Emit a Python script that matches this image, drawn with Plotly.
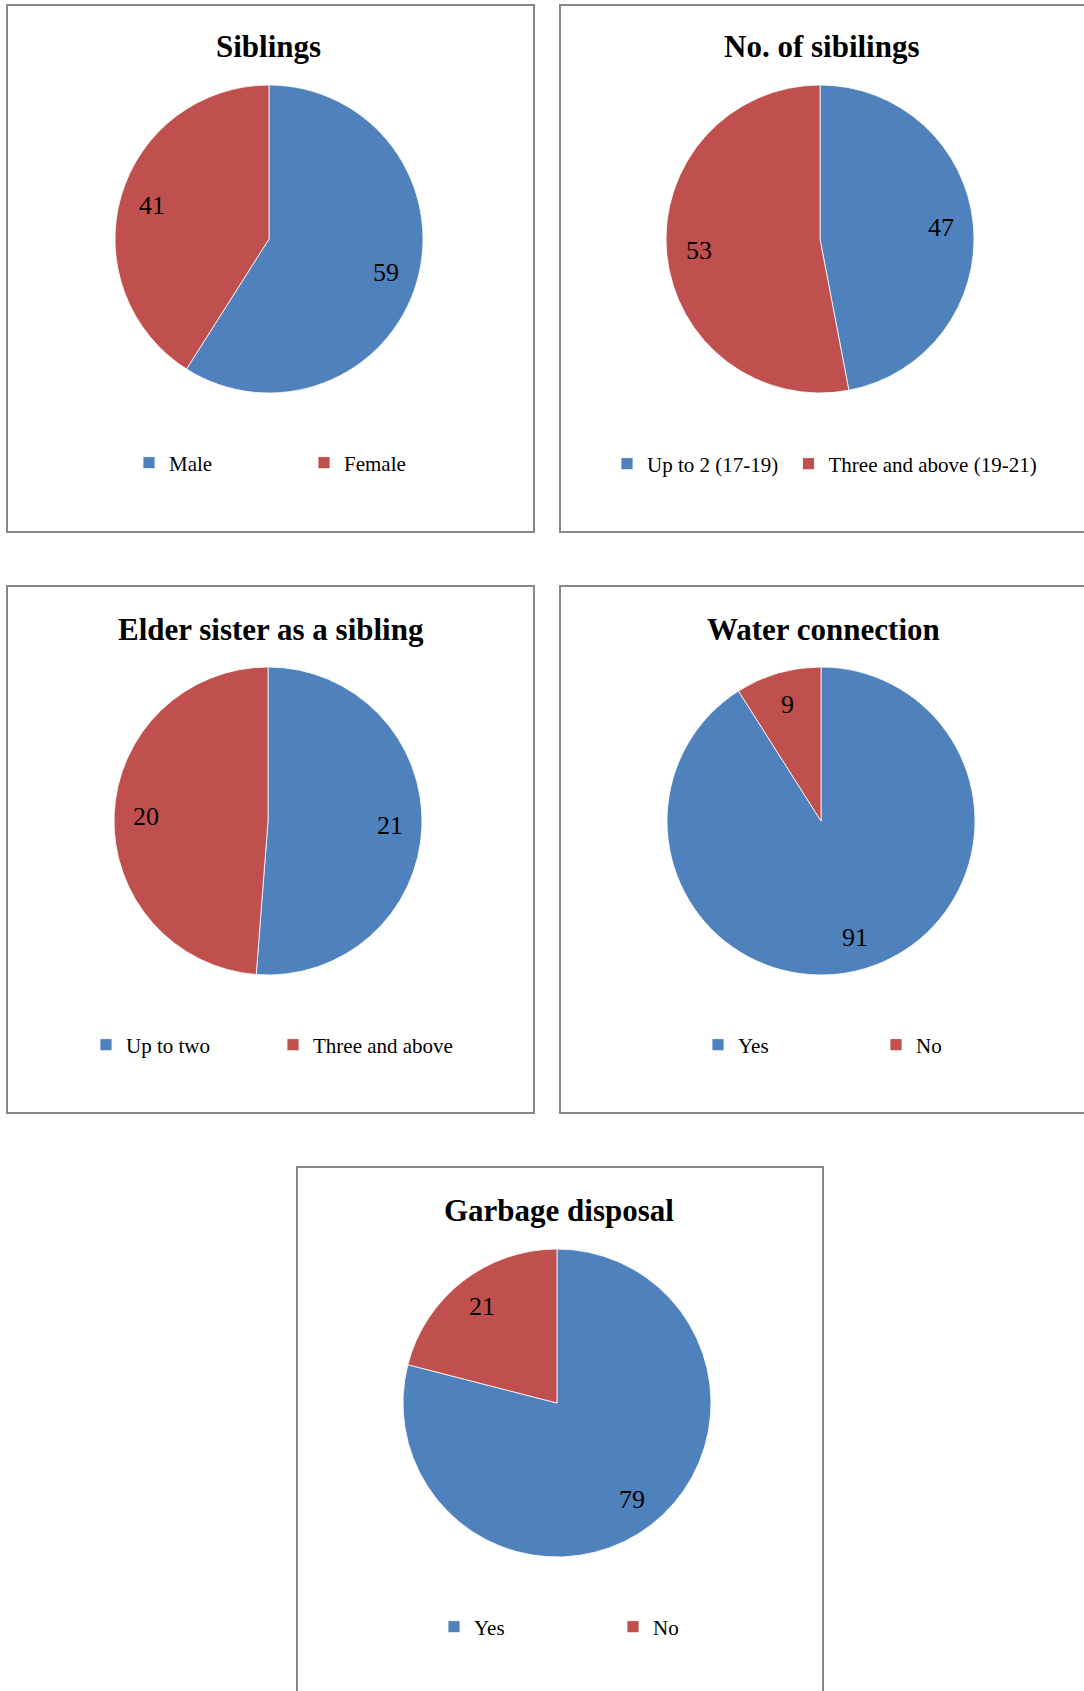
import math
import plotly.graph_objects as go

W, H = 1084, 1691

# ---- data ----
titles = ["Siblings", "No. of sibilings", "Elder sister as a sibling", "Water connection", "Garbage disposal"]
labels_1 = ["Male", "Female"]
values_1 = [59, 41]
labels_2 = ["Up to 2 (17-19)", "Three and above (19-21)"]
values_2 = [47, 53]
labels_3 = ["Up to two", "Three and above"]
values_3 = [21, 20]
labels_4 = ["Yes", "No"]
values_4 = [91, 9]
labels_5 = ["Yes", "No"]
values_5 = [79, 21]

colors = ["#4F81BD", "#C0504D"]

# ---- layout (pixel geometry) ----
boxes = [(7, 5, 534, 532), (560, 5, 1095, 532), (7, 586, 534, 1113),
         (560, 586, 1095, 1113), (297, 1167, 823, 1700)]
centers = [(269, 239), (820, 239), (268, 821), (821, 821), (557, 1403)]
title_pos = [(268, 46), (822, 46), (271, 629), (823, 629), (559, 1210)]
legend_pos = [(129, 463), (607, 464), (86, 1045), (698, 1045), (434, 1627)]
entry_w = [130, None, 142, 133, 134]
R = 154
LABEL_FRAC = 0.79

datasets = [(labels_1, values_1), (labels_2, values_2), (labels_3, values_3),
            (labels_4, values_4), (labels_5, values_5)]

fig = go.Figure()
serif = "Liberation Serif, Times New Roman, serif"

layout_legends = {}
annotations = []
for i, ((labs, vals), (cx, cy)) in enumerate(zip(datasets, centers)):
    lname = "legend" if i == 0 else f"legend{i+1}"
    # pies sharing identical labels would share legend entries; pad with
    # invisible non-breaking spaces so every chart keeps its own legend
    shown = [l + "\u00a0" * i for l in labs]
    fig.add_trace(go.Pie(
        labels=shown, values=vals, sort=False, direction="clockwise", rotation=0,
        marker=dict(colors=colors, line=dict(color="white", width=0.8)),
        textinfo="none",
        domain=dict(x=[(cx - R) / W, (cx + R) / W], y=[1 - (cy + R) / H, 1 - (cy - R) / H]),
        legend=lname, showlegend=True, hoverinfo="label+value",
    ))
    # data labels along each slice bisector
    total = sum(vals)
    cum = 0
    for v in vals:
        theta = math.radians((cum + v / 2) / total * 360)
        cum += v
        d = LABEL_FRAC * R
        px = cx + d * math.sin(theta)
        py = cy - d * math.cos(theta)
        annotations.append(dict(text=str(v), x=px / W, y=1 - py / H, xref="paper", yref="paper",
                                xanchor="center", yanchor="middle", showarrow=False,
                                font=dict(family=serif, size=26, color="black")))
    lx, ly = legend_pos[i]
    leg = dict(
        x=lx / W, y=1 - ly / H, xanchor="left", yanchor="middle",
        orientation="h", bgcolor="rgba(0,0,0,0)", borderwidth=0,
        font=dict(family=serif, size=21, color="black"),
        itemclick=False, traceorder="normal",
    )
    if entry_w[i]:
        leg.update(entrywidth=entry_w[i], entrywidthmode="pixels")
    layout_legends[lname] = leg

shapes = []
for (x0, y0, x1, y1) in boxes:
    shapes.append(dict(type="rect", xref="paper", yref="paper",
                       x0=x0 / W, x1=x1 / W, y0=1 - y1 / H, y1=1 - y0 / H,
                       line=dict(color="#878787", width=2), fillcolor="rgba(0,0,0,0)",
                       layer="below"))

for t, (tx, ty) in zip(titles, title_pos):
    annotations.append(dict(text=f"<b>{t}</b>", x=tx / W, y=1 - ty / H, xref="paper", yref="paper",
                            xanchor="center", yanchor="middle", showarrow=False,
                            font=dict(family=serif, size=31, color="black")))

fig.update_layout(
    width=W, height=H, margin=dict(l=0, r=0, t=0, b=0),
    paper_bgcolor="white", plot_bgcolor="white",
    shapes=shapes, annotations=annotations,
    **layout_legends,
)

fig.write_html("out.html")
